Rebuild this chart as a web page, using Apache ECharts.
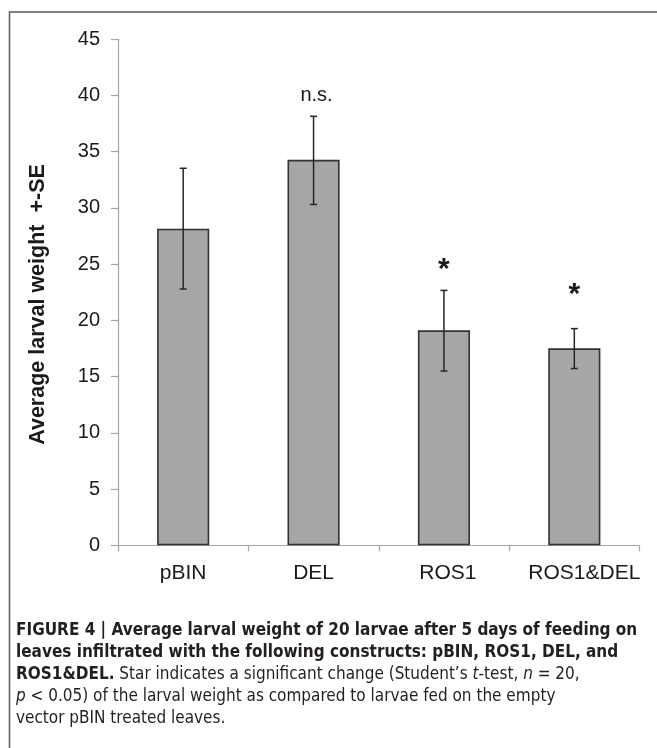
<!DOCTYPE html>
<html>
<head>
<meta charset="utf-8">
<script src="https://cdn.jsdelivr.net/npm/echarts@6/dist/echarts.min.js"></script>
<style>
html,body{margin:0;padding:0;background:#fff;}
#chart{width:657px;height:748px;}
</style>
</head>
<body>
<div id="chart"></div>
<script>
const categories = ['pBIN', 'DEL', 'ROS1', 'ROS1&DEL'];
const meanWeight = [28.15, 34.28, 19.12, 17.52];
const seUpper = [33.53, 38.15, 22.67, 19.27];
const seLower = [22.79, 30.31, 15.50, 15.72];
const annotations = ['', 'n.s.', '*', '*'];
const annotationY = [null, 40.0, 24.9, 22.6];
const yMin = 0, yMax = 45, yInterval = 5;
const yAxisTitle = 'Average larval weight  +-SE';

const captionFont = '"Liberation Sans Narrow", "DejaVu Sans Condensed", "Liberation Sans", sans-serif';
const captionSize = 17;
const captionLines = [
  '{b|FIGURE 4 | Average larval weight of 20 larvae after 5 days of feeding on}',
  '{b|leaves infiltrated with the following constructs: pBIN, ROS1, DEL, and}',
  '{b|ROS1&DEL.}{n| Star indicates a significant change (Student\u2019s }{i|t}{n|-test, }{i|n}{n| = 20,}',
  '{i|p}{n| < 0.05) of the larval weight as compared to larvae fed on the empty}',
  '{n|vector pBIN treated leaves.}'
];

const chart = echarts.init(document.getElementById('chart'), null, {renderer: 'canvas'});
const baseFont = '"Liberation Sans", Arial, sans-serif';

const captionGraphics = captionLines.map((t, k) => ({
  type: 'text',
  left: 16,
  top: 622.5 + k * 22,
  style: {
    text: t,
    fill: '#231f20',
    rich: {
      b: {fontFamily: captionFont, fontSize: captionSize, fontWeight: 'bold', fill: '#231f20'},
      n: {fontFamily: captionFont, fontSize: captionSize, fill: '#231f20'},
      i: {fontFamily: captionFont, fontSize: captionSize, fontStyle: 'italic', fill: '#231f20'}
    }
  }
}));

const labelRich = {
  c0: {fontSize: 21, fontFamily: baseFont, color: '#1a1a1a'},
  c1: {fontSize: 21, fontFamily: baseFont, color: '#1a1a1a'},
  c2: {fontSize: 21, fontFamily: baseFont, color: '#1a1a1a', padding: [0, 0, 0, 8]},
  c3: {fontSize: 21, fontFamily: baseFont, color: '#1a1a1a', padding: [0, 0, 0, 20]}
};

const option = {
  animation: false,
  backgroundColor: '#fff',
  grid: {left: 118, right: 17.5, top: 39.3, bottom: 202.7, containLabel: false},
  xAxis: {
    type: 'category',
    data: categories,
    axisLine: {lineStyle: {color: '#a6a6a6', width: 1.2}},
    axisTick: {show: true, length: 6, lineStyle: {color: '#a6a6a6', width: 1.2}},
    axisLabel: {
      color: '#1a1a1a', fontSize: 21, fontFamily: baseFont, margin: 17, interval: 0,
      formatter: function (v, i) { return '{c' + i + '|' + v + '}'; },
      rich: labelRich
    },
    splitLine: {show: false}
  },
  yAxis: {
    type: 'value',
    min: yMin, max: yMax, interval: yInterval,
    axisLine: {show: true, lineStyle: {color: '#a6a6a6', width: 1.2}},
    axisTick: {show: true, length: 7, lineStyle: {color: '#a6a6a6', width: 1.2}},
    axisLabel: {color: '#1a1a1a', fontSize: 20, fontFamily: baseFont, margin: 18},
    splitLine: {show: false}
  },
  graphic: [
    {
      type: 'rect',
      shape: {x: 9.5, y: 12, width: 700, height: 800},
      style: {fill: 'none', stroke: '#5a5a5a', lineWidth: 1.5},
      silent: true
    },
    {
      type: 'text',
      x: 38, y: 304.5,
      rotation: Math.PI / 2,
      style: {
        text: yAxisTitle,
        fontFamily: baseFont, fontSize: 21.5, fontWeight: 'bold',
        fill: '#1a1a1a', align: 'center', verticalAlign: 'middle'
      }
    }
  ].concat(captionGraphics),
  series: [
    {
      type: 'bar',
      data: meanWeight,
      barWidth: '40%',
      itemStyle: {color: '#a6a6a6', borderColor: '#333333', borderWidth: 1.6},
      z: 2
    },
    {
      type: 'custom',
      data: categories.map((c, i) => [i, seLower[i], seUpper[i]]),
      renderItem: function (params, api) {
        const i = api.value(0);
        const lo = api.coord([i, api.value(1)]);
        const hi = api.coord([i, api.value(2)]);
        const cap = 3.5;
        const st = {stroke: '#262626', lineWidth: 1.5};
        return {
          type: 'group',
          children: [
            {type: 'line', shape: {x1: hi[0], y1: hi[1], x2: lo[0], y2: lo[1]}, style: st},
            {type: 'line', shape: {x1: hi[0] - cap, y1: hi[1], x2: hi[0] + cap, y2: hi[1]}, style: st},
            {type: 'line', shape: {x1: lo[0] - cap, y1: lo[1], x2: lo[0] + cap, y2: lo[1]}, style: st}
          ]
        };
      },
      z: 3
    },
    {
      type: 'scatter',
      symbolSize: 0,
      silent: true,
      itemStyle: {opacity: 1},
      data: categories.map((c, i) => {
        const star = annotations[i] === '*';
        return {
          value: [i, annotationY[i] == null ? 0 : annotationY[i]],
          label: {
            show: annotations[i] !== '',
            position: 'inside',
            formatter: annotations[i],
            fontFamily: baseFont,
            fontSize: star ? 30 : 20,
            fontWeight: star ? 'bold' : 'normal',
            color: '#1a1a1a',
            opacity: 1,
            offset: star ? [0, 4] : [3, 0]
          }
        };
      }),
      z: 4
    }
  ]
};
chart.setOption(option);
</script>
</body>
</html>
